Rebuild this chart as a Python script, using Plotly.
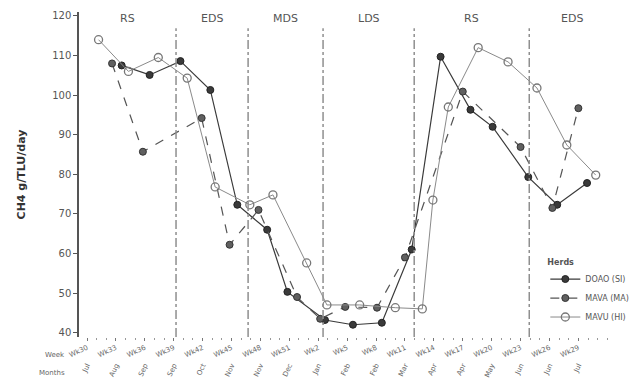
import plotly.graph_objects as go

# ---- data (weeks since start of monitoring, CH4 g/TLU/day) ----
doao_week = [3.6, 6.5, 9.7, 12.8, 15.6, 18.7, 20.8, 24.7, 27.6, 30.6, 33.7, 36.7, 39.8, 42.1, 45.8, 48.8, 51.9]
doao_ch4 = [107.5, 105.1, 108.6, 101.3, 72.3, 66.0, 50.3, 43.2, 42.0, 42.5, 61.0, 109.7, 96.3, 92.0, 79.3, 72.3, 77.8]

mava_week = [2.6, 5.8, 11.9, 14.8, 17.8, 21.8, 24.2, 26.8, 30.1, 33.0, 39.0, 45.0, 48.3, 51.0]
mava_ch4 = [108.0, 85.7, 94.2, 62.2, 71.0, 49.0, 43.5, 46.5, 46.3, 59.0, 100.9, 86.9, 71.5, 96.7]

mavu_week = [1.2, 4.3, 7.4, 10.4, 13.3, 16.9, 19.3, 22.8, 24.9, 28.3, 32.0, 34.8, 35.9, 37.5, 40.6, 43.7, 46.7, 49.8, 52.8]
mavu_ch4 = [114.0, 106.0, 109.5, 104.3, 76.8, 72.3, 74.8, 57.6, 47.0, 47.0, 46.3, 46.0, 73.5, 97.0, 112.0, 108.4, 101.8, 87.4, 79.8]

season_names = ["RS", "EDS", "MDS", "LDS", "RS", "EDS"]
season_bounds = [9.24, 16.72, 24.5, 33.96, 45.9]

tick_weeks = list(range(0, 52, 3))
week_labels = ["Wk30", "Wk33", "Wk36", "Wk39", "Wk42", "Wk45", "Wk48", "Wk51", "Wk2",
               "Wk5", "Wk8", "Wk11", "Wk14", "Wk17", "Wk20", "Wk23", "Wk26", "Wk29"]
month_labels = ["Jul", "Aug", "Sep", "Sep", "Oct", "Nov", "Nov", "Dec", "Jan",
                "Feb", "Feb", "Mar", "Apr", "Apr", "May", "Jun", "Jun", "Jul"]

X_RANGE = [-0.83, 54.8]
Y_RANGE = [38.9, 121.0]

fig = go.Figure()

fig.add_trace(go.Scatter(
    x=doao_week, y=doao_ch4, name="DOAO (SI)", mode="lines+markers",
    line=dict(color="#3a3a3a", width=1.2),
    marker=dict(symbol="circle", size=7, color="#3a3a3a", line=dict(color="#222", width=1)),
))
fig.add_trace(go.Scatter(
    x=mava_week, y=mava_ch4, name="MAVA (MA)", mode="lines+markers",
    line=dict(color="#555555", width=1.2, dash="dash"),
    marker=dict(symbol="circle", size=7, color="#606060", line=dict(color="#333", width=1)),
))
fig.add_trace(go.Scatter(
    x=mavu_week, y=mavu_ch4, name="MAVU (HI)", mode="lines+markers",
    line=dict(color="#8a8a8a", width=1.0),
    marker=dict(symbol="circle-open", size=8, color="#777777", line=dict(width=1.3)),
))
# carrier for the second (month) label row
fig.add_trace(go.Scatter(x=tick_weeks, y=[None] * len(tick_weeks), xaxis="x2",
                         mode="lines", showlegend=False, hoverinfo="skip"))

# season boundaries
for b in season_bounds:
    fig.add_shape(type="line", xref="x", yref="paper", x0=b, x1=b, y0=0, y1=0.95,
                  line=dict(color="#8f8f8f", width=1.5, dash="dashdot"))

edges = [X_RANGE[0]] + season_bounds + [X_RANGE[1]]
for i, name in enumerate(season_names):
    fig.add_annotation(x=(edges[i] + edges[i + 1]) / 2, y=0.98, xref="x", yref="paper",
                       text=name, showarrow=False, yanchor="middle",
                       font=dict(family="DejaVu Sans", size=11, color="#555"))

fig.add_annotation(x=-0.022, y=-0.055, xref="paper", yref="paper", text="Week",
                   showarrow=False, xanchor="right", yanchor="middle",
                   font=dict(family="DejaVu Sans", size=7, color="#666"))
fig.add_annotation(x=-0.022, y=-0.11, xref="paper", yref="paper", text="Months",
                   showarrow=False, xanchor="right", yanchor="middle",
                   font=dict(family="DejaVu Sans", size=7, color="#666"))

fig.update_layout(
    width=630, height=386,
    margin=dict(l=79, r=15, t=12, b=49, autoexpand=False),
    paper_bgcolor="white", plot_bgcolor="white",
    font=dict(family="DejaVu Sans", color="#444"),
    xaxis=dict(range=X_RANGE, showgrid=False, zeroline=False, showline=False,
               tickmode="array", tickvals=tick_weeks, ticktext=week_labels,
               tickangle=-25, tickfont=dict(size=7, color="#666"),
               ticks="outside", ticklen=3, tickcolor="#777",
               minor=dict(dtick=1, ticks="outside", ticklen=2, tickcolor="#999")),
    xaxis2=dict(range=X_RANGE, overlaying="x", anchor="y", side="bottom",
                showgrid=False, zeroline=False, showline=False, ticks="",
                tickmode="array", tickvals=tick_weeks, ticktext=month_labels,
                tickangle=-65, tickfont=dict(size=7, color="#666"),
                ticklabelstandoff=22),
    yaxis=dict(range=Y_RANGE, showgrid=False, zeroline=False,
               showline=True, linecolor="#555", linewidth=1.5,
               tickmode="array", tickvals=list(range(40, 121, 10)),
               ticks="outside", ticklen=4, tickcolor="#555",
               tickfont=dict(size=10, color="#555"),
               title=dict(text="<b>CH4 g/TLU/day</b>", standoff=24,
                          font=dict(size=11, color="#333"))),
    legend=dict(x=0.87, y=0.255, xanchor="left", yanchor="top",
                bgcolor="rgba(255,255,255,0)", tracegroupgap=0,
                title=dict(text="<b>Herds</b>", font=dict(size=8, color="#555")),
                font=dict(size=8, color="#555"), itemwidth=30),
    showlegend=True,
)

fig.write_html("out.html")
